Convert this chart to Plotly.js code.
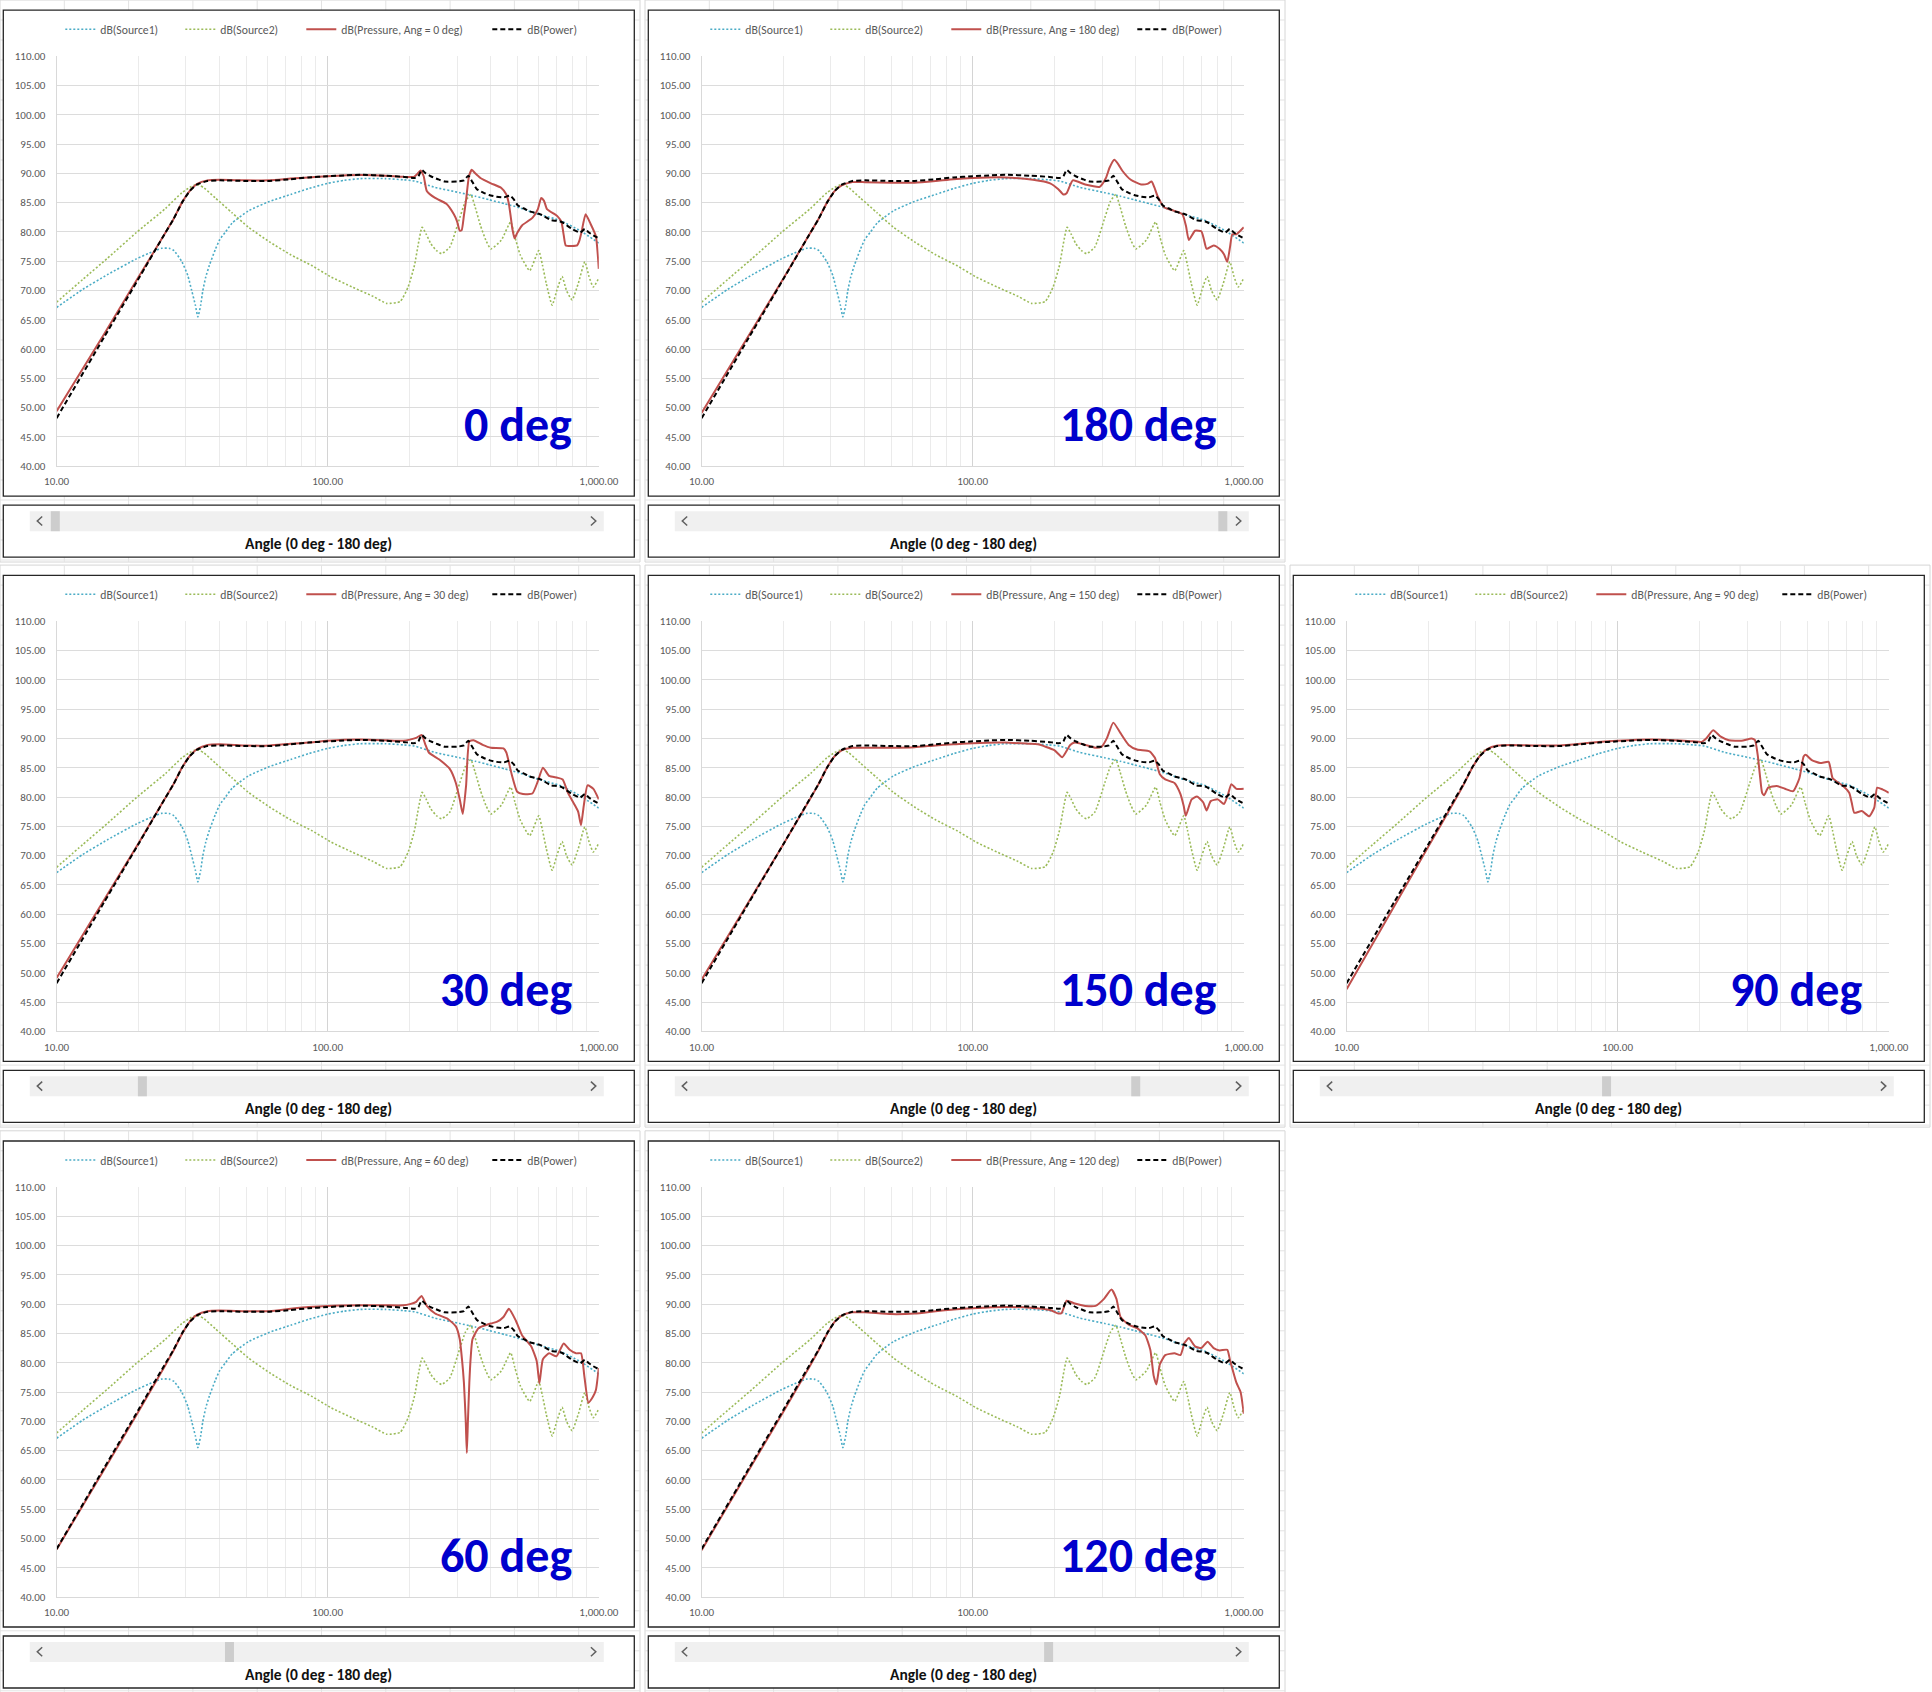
<!DOCTYPE html>
<html><head><meta charset="utf-8">
<script src="https://cdn.plot.ly/plotly-3.0.1.min.js"></script>
<style>html,body{margin:0;padding:0;background:#fff;}#chart{width:1932px;height:1692px;}</style>
</head><body><div id="chart"></div>
<script>
// ---------------- DATA ----------------
const X_TICKS = [10, 100, 1000];
const X_TICKTEXT = ['10.00', '100.00', '1,000.00'];
const X_MINOR = [20,30,40,50,60,70,80,90,200,300,400,500,600,700,800,900];
const SCROLL_LABEL = 'Angle (0 deg - 180 deg)';

const S1_F  = [10,12.5,15.4,19.7,22,24.4,26,27.1,29,30.5,31.5,32.5,33.2,34,34.6,35.5,36.6,38.5,40,42,44.4,51,61,73,85,100,115,132,163,190,209,249,307,350,394,450,503,600,716,854,1000];
const S1_DB = [67.1,70.2,72.7,75.4,76.4,77.2,77.2,76.8,74.9,72.5,70.0,67.5,65.5,67.5,69.9,72.3,74.3,77.0,78.7,80.0,81.5,83.6,85.2,86.4,87.4,88.3,88.8,89.1,89.1,88.9,88.7,87.6,86.7,86.1,85.5,84.8,84.2,83.0,82.0,80.2,78.1];

const S2_F  = [10,12.5,15.4,19.7,25.2,29,31,32.3,33.5,35,38.5,44.3,51,61,73,87,103,123,147,165,185,198,209,216,223,231,240,252,263,282,307,322,337,350,366,383,400,437,473,490,513,556,600,620,640,673,700,732,760,797,840,888,920,954,1000];
const S2_DB = [68.0,71.9,75.5,79.9,84.0,86.7,87.6,88.0,88.0,87.5,85.8,83.3,80.8,78.3,76.1,74.3,72.3,70.6,69.0,67.8,68.1,70.6,74.3,78.0,80.8,79.6,78.0,76.8,76.3,77.4,82.4,85.2,86.4,84.2,81.1,78.6,77.1,78.6,81.7,79.2,76.1,73.4,76.8,74.3,71.2,67.5,70.0,72.4,70.0,68.4,71.2,74.9,72.4,70.6,72.1];

const PW_F  = [10,15,20,25,27,29,31,33,36,40,50,61,73,85,100,115,132,163,190,209,216,222,230,240,255,270,300,318,330,342,355,375,394,420,446,470,485,503,530,556,610,667,700,730,797,854,888,920,954,1000];
const PW_DB = [48.2,62.1,71.9,79.6,82.2,85.0,87.0,88.1,88.7,88.8,88.7,88.7,89.0,89.3,89.5,89.65,89.75,89.6,89.4,89.2,89.5,90.6,90.0,89.5,89.0,88.6,88.6,88.8,89.6,88.5,87.3,86.7,86.3,86.0,85.9,86.2,85.6,84.5,84.0,83.5,83.0,82.0,81.9,81.7,80.5,79.9,80.5,79.9,79.4,78.9];

const P0_F  = [10,15,20,25,27,29,31,33,36,40,50,61,73,85,100,132,163,190,208,214,220,226,232,249,274,292,300,307,312,318,324,332,340,350,366,400,437,456,465,472,480,489,500,521,569,596,613,628,644,703,728,742,755,790,832,848,863,894,932,975,1000];
const P0_DB = [49.4,62.6,72.2,79.6,82.2,85.0,87.0,88.2,88.8,88.9,88.8,88.8,89.1,89.3,89.5,89.7,89.6,89.4,89.4,89.9,90.5,89.5,87.0,85.8,84.8,83.0,81.8,80.2,80.3,82.8,85.5,89.5,90.6,90.0,89.2,88.3,87.5,86.4,85.0,83.0,80.5,78.9,79.8,81.1,82.4,83.9,85.8,85.3,83.9,82.7,81.7,79.5,77.7,77.6,77.7,78.5,79.9,83.0,81.4,79.3,73.7];

const P30_F  = [10,15,20,25,27,29,31,33,36,40,50,61,73,85,100,132,163,190,201,212,222,229,236,258,282,297,307,315,324,333,345,373,400,445,456,477,500,525,569,596,622,656,703,736,768,809,839,860,880,909,955,1000];
const P30_DB = [49.1,62.5,72.0,79.6,82.2,85.0,87.0,88.2,88.9,89.0,88.8,88.8,89.1,89.3,89.6,89.8,89.7,89.6,89.8,90.1,90.6,89.0,87.6,86.4,84.8,82.4,79.6,77.1,82.0,89.5,89.7,88.9,88.4,88.3,87.6,83.9,80.9,80.5,80.6,82.7,85.0,83.6,83.3,83.0,80.8,78.9,77.5,75.2,78.5,82.0,81.4,79.6];

const P60_F  = [10,15,20,25,27,29,31,33,36,40,50,61,73,85,100,132,163,190,201,212,222,232,249,277,297,307,313,318,323,326,329,333,337,342,360,400,422,445,466,494,521,563,590,604,622,656,698,742,781,824,860,884,916,949,975,1000];
const P60_DB = [48.1,61.8,71.6,79.3,82.1,84.9,87.0,88.2,88.8,88.9,88.8,88.8,89.2,89.5,89.7,89.8,89.8,89.8,90.0,90.4,91.4,89.7,88.4,87.5,86.2,84.0,80.5,76.6,70.0,64.6,70.0,76.6,81.0,84.0,85.9,86.7,87.0,87.8,89.2,87.2,84.7,82.8,80.3,76.5,80.6,81.6,81.1,83.3,82.2,81.6,81.6,77.8,73.2,74.1,75.3,79.1];

const P90_F  = [10,15,20,25,27,29,31,33,36,40,50,61,73,85,100,132,163,190,204,212,225,240,257,286,312,321,329,335,341,347,359,386,414,444,468,485,494,520,558,600,610,621,678,715,730,746,795,847,884,906,948,1000];
const P90_DB = [47.2,61.4,71.5,79.3,82.1,84.9,87.0,88.2,88.8,88.9,88.8,88.8,89.1,89.4,89.6,89.8,89.7,89.5,89.4,90.0,91.4,90.3,89.7,89.6,90.0,89.7,86.9,83.5,80.7,80.3,81.6,81.9,81.4,81.0,83.2,86.9,87.2,86.3,85.8,86.0,84.8,83.2,81.9,80.7,79.0,77.3,77.6,76.7,78.2,81.6,81.3,80.7];

const P120_F  = [10,15,20,25,27,29,31,33,36,40,50,61,73,85,100,132,163,193,207,213,222,238,260,284,305,325,339,351,376,404,433,452,465,476,490,513,555,584,605,627,661,697,735,774,815,869,891,939,973,1000];
const P120_DB = [48.0,61.8,71.6,79.3,82.1,84.9,87.0,88.1,88.6,88.6,88.3,88.4,88.8,89.1,89.3,89.5,89.4,89.0,88.4,88.5,90.6,90.1,89.7,89.7,90.9,92.5,90.9,87.8,86.5,85.9,84.7,82.2,77.8,76.3,79.7,81.3,81.6,81.3,83.4,84.2,82.8,82.5,83.6,82.5,82.1,82.2,80.3,76.6,75.0,71.3];

const P150_F  = [10,15,20,25,27,29,31,33,36,40,50,61,73,85,100,132,160,174,200,214,229,238,260,284,299,313,330,351,376,404,449,470,490,513,555,584,600,611,642,672,708,729,755,802,845,875,900,939,1000];
const P150_DB = [48.8,62.3,71.9,79.5,82.2,85.0,87.0,88.0,88.4,88.4,88.4,88.5,88.8,89.0,89.2,89.3,89.1,89.0,88.0,86.8,88.9,89.3,88.9,88.4,88.6,90.1,92.7,90.9,88.9,88.1,87.8,86.7,83.9,83.0,82.4,80.5,78.5,76.8,79.6,80.1,79.1,77.7,79.3,79.6,78.8,80.5,82.2,81.4,81.4];

const P180_F  = [10,15,20,25,27,29,31,33,36,40,50,61,73,85,100,132,167,193,207,216,222,234,260,294,310,320,333,345,357,383,418,441,457,468,481,508,554,594,612,627,661,697,712,729,774,815,845,869,890,907,939,1000];
const P180_DB = [49.1,62.5,72.0,79.6,82.2,85.0,87.0,88.0,88.5,88.5,88.4,88.4,88.7,89.0,89.2,89.3,88.9,88.3,87.3,86.4,86.6,88.8,88.1,87.7,89.2,91.0,92.3,91.5,90.4,88.9,88.1,88.2,88.6,87.6,86.1,84.2,83.6,83.0,81.0,78.6,80.2,80.1,78.8,77.1,77.7,77.1,76.2,74.9,77.5,79.6,79.6,80.8];

const ANGLES = [0, 180, 30, 150, 90, 60, 120];
const PRESSURE_F  = [P0_F, P180_F, P30_F, P150_F, P90_F, P60_F, P120_F];
const PRESSURE_DB = [P0_DB, P180_DB, P30_DB, P150_DB, P90_DB, P60_DB, P120_DB];

// ---------------- LAYOUT ----------------
const W = 1932, H = 1692;
const FONT = 'Carlito, Calibri, Lato, "Open Sans", sans-serif';
const CELL = [[0,0],[1,0],[0,1],[1,1],[2,1],[0,2],[1,2]]; // [col,row] per panel
const FX = [3.3, 648.3, 1293.3], FY = [10.2, 575.3, 1141.0];
const FW = 631, FH = 486;
const LEG_X = [60, 180, 301, 487];   // legend item starts, relative to frame left
const px = x => x / W, py = y => 1 - y / H;

const C_S1 = '#4BACC6', C_S2 = '#9BBB59', C_P = '#C0504D', C_PW = '#000000';

const traces = [];
const layout = {
  width: W, height: H, margin: {l:0, r:0, t:0, b:0},
  paper_bgcolor: '#ffffff', plot_bgcolor: 'rgba(0,0,0,0)',
  showlegend: true, shapes: [], annotations: [], hovermode: false
};

function rect(x0, y0, x1, y1, fill, lineColor, lw) {
  return {type:'rect', xref:'paper', yref:'paper', layer:'below',
    x0:px(x0), x1:px(x1), y0:py(y1), y1:py(y0),
    fillcolor: fill, line:{color: lineColor || 'rgba(0,0,0,0)', width: lw || 0}};
}
function pathShape(d, color, lw) {
  return {type:'path', xref:'paper', yref:'paper', layer:'below', path:d,
    line:{color, width: lw}, fillcolor:'rgba(0,0,0,0)'};
}

// spreadsheet tiles (background) first
CELL.forEach(([c, r]) => {
  const tx = FX[c] - 3.3, ty = FY[r] - 10.2, tw = 640, th = 562;
  layout.shapes.push(rect(tx, ty, tx + tw, ty + th, '#ffffff', '#d6d6d6', 1));
  let d = '';
  for (let k = 1; tx + k * 64.3 < tx + tw - 1; k++) {
    const x = px(tx + k * 64.3);
    d += `M${x},${py(ty)}L${x},${py(ty + th)}`;
  }
  for (let k = 1; ty + k * 20 < ty + th - 1; k++) {
    const y = py(ty + k * 20);
    d += `M${px(tx)},${y}L${px(tx + tw)},${y}`;
  }
  layout.shapes.push(pathShape(d, '#e3e3e3', 1));
});

let legCount = 0;
ANGLES.forEach((ang, i) => {
  const [c, r] = CELL[i];
  const fx = FX[c], fy = FY[r];
  const n = i + 1, sx = n === 1 ? '' : String(n);
  const xr = 'x' + sx, yr = 'y' + sx;

  // frames
  layout.shapes.push(rect(fx, fy, fx + FW, fy + FH, '#ffffff', '#262626', 1.3));
  layout.shapes.push(rect(fx, fy + 495, fx + FW, fy + 547, '#ffffff', '#262626', 1.3));
  // scrollbar
  const trX0 = fx + 26.5, trX1 = fx + 600.5, trY0 = fy + 501, trY1 = fy + 521;
  layout.shapes.push(rect(trX0, trY0, trX1, trY1, '#f0f0f0'));
  const thumbX = trX0 + 21 + ang / 180 * 522.5;
  layout.shapes.push(rect(thumbX, trY0, thumbX + 9, trY1, '#cdcdcd'));
  const cy = fy + 510.8;
  layout.shapes.push(pathShape(`M${px(fx+38.9)},${py(cy-4.5)}L${px(fx+34.0)},${py(cy)}L${px(fx+38.9)},${py(cy+4.5)}`, '#606060', 1.5));
  layout.shapes.push(pathShape(`M${px(fx+587.6)},${py(cy-4.5)}L${px(fx+592.5)},${py(cy)}L${px(fx+587.6)},${py(cy+4.5)}`, '#606060', 1.5));

  // axes
  layout['xaxis' + sx] = {
    domain: [px(fx + 53.3), px(fx + 595.5)], anchor: yr, type: 'log', range: [1, 3],
    tickmode: 'array', tickvals: X_TICKS, ticktext: X_TICKTEXT,
    showgrid: true, gridcolor: '#d4d4d4', gridwidth: 1,
    minor: {tickmode: 'array', tickvals: X_MINOR, showgrid: true, gridcolor: '#ebebeb', gridwidth: 1, ticks: ''},
    ticks: '', showline: true, linecolor: '#d9d9d9', linewidth: 1, zeroline: false, mirror: false,
    tickfont: {family: FONT, size: 11, color: '#595959'}, ticklabelstandoff: 5, fixedrange: true
  };
  layout['yaxis' + sx] = {
    domain: [py(fy + 456), py(fy + 46)], anchor: xr, range: [40, 110],
    tickmode: 'linear', tick0: 40, dtick: 5, tickformat: '.2f',
    showgrid: true, gridcolor: '#dcdcdc', gridwidth: 1,
    ticks: '', showline: true, linecolor: '#d9d9d9', linewidth: 1, zeroline: false,
    tickfont: {family: FONT, size: 11, color: '#595959'}, ticklabelstandoff: 8, fixedrange: true
  };

  const mk = (j, name, f, v, color, width, dash) => {
    legCount++;
    const lg = legCount === 1 ? 'legend' : 'legend' + legCount;
    layout[lg] = {
      orientation: 'h', x: px(fx + LEG_X[j] - 3), xanchor: 'left', y: py(fy + 19), yanchor: 'middle',
      font: {family: FONT, size: 11.7, color: '#595959'}, bgcolor: 'rgba(0,0,0,0)',
      borderwidth: 0, itemwidth: 30
    };
    return {
      type: 'scatter', mode: 'lines', x: f, y: v, name, xaxis: xr, yaxis: yr, legend: lg,
      line: {color, width, dash, shape: 'spline', smoothing: 0.5}, hoverinfo: 'skip'
    };
  };
  traces.push(mk(0, 'dB(Source1)', S1_F, S1_DB, C_S1, 1.6, '2px,2px'));
  traces.push(mk(1, 'dB(Source2)', S2_F, S2_DB, C_S2, 1.6, '2px,2px'));
  traces.push(mk(2, `dB(Pressure, Ang = ${ang} deg)`, PRESSURE_F[i], PRESSURE_DB[i], C_P, 2, 'solid'));
  traces.push(mk(3, 'dB(Power)', PW_F, PW_DB, C_PW, 2, '5px,3px'));

  // annotations
  layout.annotations.push({
    xref: 'paper', yref: 'paper', x: px(fx + 595.5 - 25), y: py(fy + 456 - 10.5),
    xanchor: 'right', yanchor: 'bottom', showarrow: false,
    text: `<b>${ang} deg</b>`, font: {family: FONT, size: 48, color: '#0000CC'}
  });
  layout.annotations.push({
    xref: 'paper', yref: 'paper', x: px(fx + FW / 2), y: py(fy + 533),
    xanchor: 'center', yanchor: 'middle', showarrow: false,
    text: `<b>${SCROLL_LABEL}</b>`, font: {family: FONT, size: 15.5, color: '#111111'}
  });
});

Plotly.newPlot('chart', traces, layout, {staticPlot: true, displayModeBar: false});
</script>
</body></html>
